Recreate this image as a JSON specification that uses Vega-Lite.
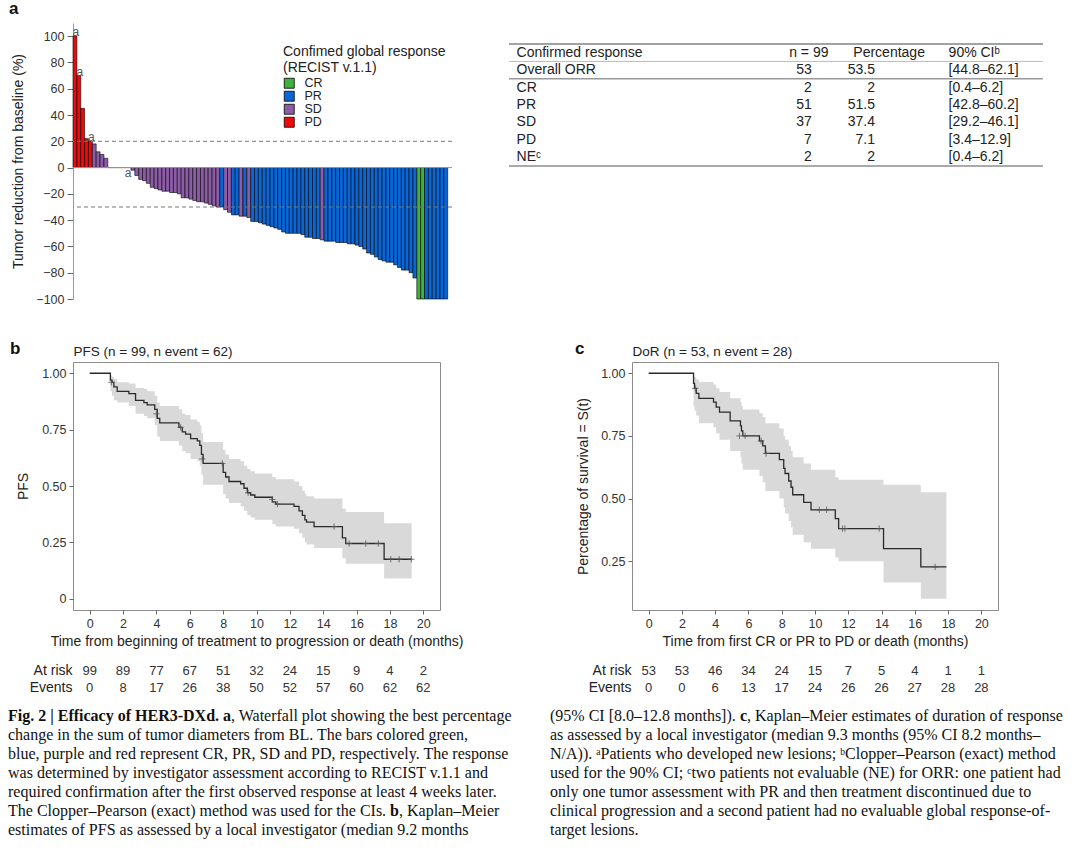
{
  "$schema": "https://vega.github.io/schema/vega-lite/v6.json",
  "background": "white",
  "padding": {"left": 8, "top": 0, "right": 2, "bottom": 2},
  "config": {
    "view": {"stroke": null},
    "font": "Liberation Sans",
    "axis": {"labelFontSize": 12.5, "labelColor": "#333", "titleFontSize": 14, "titleFontWeight": "normal", "titleColor": "#222", "tickColor": "#666", "domainColor": "#999", "grid": false, "labelFont": "Liberation Sans", "titleFont": "Liberation Sans", "labelOverlap": false},
    "title": {"fontSize": 17, "fontWeight": "bold", "color": "#111", "anchor": "start", "frame": "group", "font": "Liberation Sans"},
    "legend": {"titleFontSize": 14, "titleFontWeight": "normal", "titleColor": "#222", "labelFontSize": 12.5, "labelColor": "#222", "symbolType": "square", "symbolSize": 100, "symbolStrokeColor": "black", "symbolStrokeWidth": 0.8, "titleLineHeight": 16, "rowPadding": -1, "labelOffset": 9, "titlePadding": 2, "labelBaseline": "middle"}
  },
  "datasets": {
    "wf": [
      {"pid": 1, "value": 100, "resp": "PD", "note": "a"},
      {"pid": 2, "value": 70, "resp": "PD", "note": "a"},
      {"pid": 3, "value": 45, "resp": "PD", "note": ""},
      {"pid": 4, "value": 22, "resp": "PD", "note": ""},
      {"pid": 5, "value": 20, "resp": "PD", "note": "a"},
      {"pid": 6, "value": 18, "resp": "SD", "note": ""},
      {"pid": 7, "value": 12, "resp": "SD", "note": ""},
      {"pid": 8, "value": 10, "resp": "SD", "note": ""},
      {"pid": 9, "value": 7, "resp": "SD", "note": ""},
      {"pid": 10, "value": 0, "resp": "PD", "note": ""},
      {"pid": 11, "value": 0, "resp": "PD", "note": ""},
      {"pid": 12, "value": 0, "resp": "SD", "note": ""},
      {"pid": 13, "value": 0, "resp": "SD", "note": ""},
      {"pid": 14, "value": 0, "resp": "SD", "note": ""},
      {"pid": 15, "value": 0, "resp": "SD", "note": "a"},
      {"pid": 16, "value": -2, "resp": "SD", "note": ""},
      {"pid": 17, "value": -6, "resp": "SD", "note": ""},
      {"pid": 18, "value": -9, "resp": "SD", "note": ""},
      {"pid": 19, "value": -10, "resp": "SD", "note": ""},
      {"pid": 20, "value": -12, "resp": "SD", "note": ""},
      {"pid": 21, "value": -15, "resp": "SD", "note": ""},
      {"pid": 22, "value": -16, "resp": "SD", "note": ""},
      {"pid": 23, "value": -17, "resp": "SD", "note": ""},
      {"pid": 24, "value": -18, "resp": "SD", "note": ""},
      {"pid": 25, "value": -18, "resp": "SD", "note": ""},
      {"pid": 26, "value": -19, "resp": "SD", "note": ""},
      {"pid": 27, "value": -19, "resp": "SD", "note": ""},
      {"pid": 28, "value": -20, "resp": "SD", "note": ""},
      {"pid": 29, "value": -23, "resp": "SD", "note": ""},
      {"pid": 30, "value": -23, "resp": "SD", "note": ""},
      {"pid": 31, "value": -24, "resp": "SD", "note": ""},
      {"pid": 32, "value": -25, "resp": "SD", "note": ""},
      {"pid": 33, "value": -26, "resp": "SD", "note": ""},
      {"pid": 34, "value": -26, "resp": "SD", "note": ""},
      {"pid": 35, "value": -27, "resp": "SD", "note": ""},
      {"pid": 36, "value": -28, "resp": "SD", "note": ""},
      {"pid": 37, "value": -29, "resp": "SD", "note": ""},
      {"pid": 38, "value": -30, "resp": "SD", "note": ""},
      {"pid": 39, "value": -30, "resp": "PR", "note": ""},
      {"pid": 40, "value": -32, "resp": "SD", "note": ""},
      {"pid": 41, "value": -34, "resp": "SD", "note": ""},
      {"pid": 42, "value": -36, "resp": "PR", "note": ""},
      {"pid": 43, "value": -36, "resp": "PR", "note": ""},
      {"pid": 44, "value": -37, "resp": "SD", "note": ""},
      {"pid": 45, "value": -37, "resp": "PR", "note": ""},
      {"pid": 46, "value": -38, "resp": "SD", "note": ""},
      {"pid": 47, "value": -41, "resp": "PR", "note": ""},
      {"pid": 48, "value": -41, "resp": "PR", "note": ""},
      {"pid": 49, "value": -42, "resp": "PR", "note": ""},
      {"pid": 50, "value": -43, "resp": "PR", "note": ""},
      {"pid": 51, "value": -44, "resp": "PR", "note": ""},
      {"pid": 52, "value": -45, "resp": "PR", "note": ""},
      {"pid": 53, "value": -46, "resp": "PR", "note": ""},
      {"pid": 54, "value": -47, "resp": "PR", "note": ""},
      {"pid": 55, "value": -49, "resp": "PR", "note": ""},
      {"pid": 56, "value": -50, "resp": "PR", "note": ""},
      {"pid": 57, "value": -50, "resp": "PR", "note": ""},
      {"pid": 58, "value": -50, "resp": "PR", "note": ""},
      {"pid": 59, "value": -50, "resp": "PR", "note": ""},
      {"pid": 60, "value": -51, "resp": "PR", "note": ""},
      {"pid": 61, "value": -53, "resp": "PR", "note": ""},
      {"pid": 62, "value": -53, "resp": "PR", "note": ""},
      {"pid": 63, "value": -54, "resp": "PR", "note": ""},
      {"pid": 64, "value": -54, "resp": "PR", "note": ""},
      {"pid": 65, "value": -55, "resp": "SD", "note": ""},
      {"pid": 66, "value": -56, "resp": "PR", "note": ""},
      {"pid": 67, "value": -56, "resp": "PR", "note": ""},
      {"pid": 68, "value": -56, "resp": "PR", "note": ""},
      {"pid": 69, "value": -57, "resp": "PR", "note": ""},
      {"pid": 70, "value": -57, "resp": "PR", "note": ""},
      {"pid": 71, "value": -57, "resp": "PR", "note": ""},
      {"pid": 72, "value": -58, "resp": "PR", "note": ""},
      {"pid": 73, "value": -58, "resp": "PR", "note": ""},
      {"pid": 74, "value": -59, "resp": "PR", "note": ""},
      {"pid": 75, "value": -60, "resp": "PR", "note": ""},
      {"pid": 76, "value": -62, "resp": "PR", "note": ""},
      {"pid": 77, "value": -65, "resp": "PR", "note": ""},
      {"pid": 78, "value": -66, "resp": "PR", "note": ""},
      {"pid": 79, "value": -68, "resp": "PR", "note": ""},
      {"pid": 80, "value": -70, "resp": "PR", "note": ""},
      {"pid": 81, "value": -71, "resp": "PR", "note": ""},
      {"pid": 82, "value": -72, "resp": "PR", "note": ""},
      {"pid": 83, "value": -72, "resp": "PR", "note": ""},
      {"pid": 84, "value": -74, "resp": "PR", "note": ""},
      {"pid": 85, "value": -76, "resp": "PR", "note": ""},
      {"pid": 86, "value": -78, "resp": "PR", "note": ""},
      {"pid": 87, "value": -78, "resp": "PR", "note": ""},
      {"pid": 88, "value": -80, "resp": "PR", "note": ""},
      {"pid": 89, "value": -84, "resp": "PR", "note": ""},
      {"pid": 90, "value": -100, "resp": "CR", "note": ""},
      {"pid": 91, "value": -100, "resp": "CR", "note": ""},
      {"pid": 92, "value": -100, "resp": "PR", "note": ""},
      {"pid": 93, "value": -100, "resp": "PR", "note": ""},
      {"pid": 94, "value": -100, "resp": "PR", "note": ""},
      {"pid": 95, "value": -100, "resp": "PR", "note": ""},
      {"pid": 96, "value": -100, "resp": "PR", "note": ""},
      {"pid": 97, "value": -100, "resp": "PR", "note": ""}
    ],
    "tblHead": [
      {"label": "Confirmed response", "n": "n = 99", "pct": "Percentage", "ci": "90% CIᵇ"}
    ],
    "tbl": [
      {"label": "Overall ORR", "n": 53, "pct": 53.5, "ci": "[44.8–62.1]"},
      {"label": "CR", "n": 2, "pct": 2, "ci": "[0.4–6.2]"},
      {"label": "PR", "n": 51, "pct": 51.5, "ci": "[42.8–60.2]"},
      {"label": "SD", "n": 37, "pct": 37.4, "ci": "[29.2–46.1]"},
      {"label": "PD", "n": 7, "pct": 7.1, "ci": "[3.4–12.9]"},
      {"label": "NEᶜ", "n": 2, "pct": 2, "ci": "[0.4–6.2]"}
    ],
    "pfs": [
      {"t": 0, "s": 1, "lo": 1, "hi": 1},
      {"t": 1.24, "s": 0.97, "lo": 0.92, "hi": 0.99},
      {"t": 1.34, "s": 0.96, "lo": 0.9, "hi": 0.985},
      {"t": 1.45, "s": 0.94, "lo": 0.88, "hi": 0.975},
      {"t": 1.65, "s": 0.92, "lo": 0.87, "hi": 0.96},
      {"t": 2.35, "s": 0.91, "lo": 0.855, "hi": 0.955},
      {"t": 2.75, "s": 0.88, "lo": 0.82, "hi": 0.935},
      {"t": 3.25, "s": 0.87, "lo": 0.81, "hi": 0.93},
      {"t": 3.45, "s": 0.86, "lo": 0.8, "hi": 0.92},
      {"t": 3.9, "s": 0.84, "lo": 0.77, "hi": 0.9},
      {"t": 4.05, "s": 0.8, "lo": 0.72, "hi": 0.87},
      {"t": 4.2, "s": 0.78, "lo": 0.7, "hi": 0.855},
      {"t": 5.35, "s": 0.76, "lo": 0.68, "hi": 0.84},
      {"t": 5.55, "s": 0.74, "lo": 0.655, "hi": 0.82},
      {"t": 5.75, "s": 0.73, "lo": 0.645, "hi": 0.815},
      {"t": 6.05, "s": 0.71, "lo": 0.62, "hi": 0.795},
      {"t": 6.45, "s": 0.7, "lo": 0.61, "hi": 0.785},
      {"t": 6.6, "s": 0.68, "lo": 0.59, "hi": 0.77},
      {"t": 6.7, "s": 0.64, "lo": 0.55, "hi": 0.735},
      {"t": 6.8, "s": 0.6, "lo": 0.505, "hi": 0.695},
      {"t": 8.0, "s": 0.56, "lo": 0.465, "hi": 0.66},
      {"t": 8.15, "s": 0.54, "lo": 0.445, "hi": 0.64},
      {"t": 8.35, "s": 0.52, "lo": 0.425, "hi": 0.62},
      {"t": 9.05, "s": 0.51, "lo": 0.41, "hi": 0.61},
      {"t": 9.25, "s": 0.49, "lo": 0.39, "hi": 0.59},
      {"t": 9.45, "s": 0.47, "lo": 0.37, "hi": 0.575},
      {"t": 9.65, "s": 0.46, "lo": 0.36, "hi": 0.565},
      {"t": 9.9, "s": 0.45, "lo": 0.35, "hi": 0.555},
      {"t": 10.95, "s": 0.43, "lo": 0.33, "hi": 0.54},
      {"t": 11.15, "s": 0.42, "lo": 0.32, "hi": 0.53},
      {"t": 12.25, "s": 0.41, "lo": 0.31, "hi": 0.52},
      {"t": 12.55, "s": 0.39, "lo": 0.29, "hi": 0.5},
      {"t": 12.75, "s": 0.37, "lo": 0.27, "hi": 0.48},
      {"t": 12.9, "s": 0.35, "lo": 0.25, "hi": 0.465},
      {"t": 13.0, "s": 0.34, "lo": 0.24, "hi": 0.455},
      {"t": 13.45, "s": 0.32, "lo": 0.225, "hi": 0.445},
      {"t": 15.15, "s": 0.27, "lo": 0.18, "hi": 0.4},
      {"t": 15.35, "s": 0.245, "lo": 0.155, "hi": 0.385},
      {"t": 17.65, "s": 0.175, "lo": 0.09, "hi": 0.335},
      {"t": 19.3, "s": 0.175, "lo": 0.09, "hi": 0.335}
    ],
    "pfsC": [
      {"t": 1.3, "s": 0.96}, {"t": 4.0, "s": 0.82}, {"t": 5.45, "s": 0.76}, {"t": 6.75, "s": 0.62},
      {"t": 7.95, "s": 0.6}, {"t": 9.5, "s": 0.47}, {"t": 10.95, "s": 0.44}, {"t": 11.25, "s": 0.42},
      {"t": 14.65, "s": 0.32}, {"t": 15.55, "s": 0.245}, {"t": 16.55, "s": 0.245}, {"t": 17.3, "s": 0.245},
      {"t": 18.05, "s": 0.175}, {"t": 18.55, "s": 0.175}, {"t": 19.28, "s": 0.175}
    ],
    "pfsRisk": [
      {"t": 0, "row": "At risk", "v": 99}, {"t": 2, "row": "At risk", "v": 89}, {"t": 4, "row": "At risk", "v": 77},
      {"t": 6, "row": "At risk", "v": 67}, {"t": 8, "row": "At risk", "v": 51}, {"t": 10, "row": "At risk", "v": 32},
      {"t": 12, "row": "At risk", "v": 24}, {"t": 14, "row": "At risk", "v": 15}, {"t": 16, "row": "At risk", "v": 9},
      {"t": 18, "row": "At risk", "v": 4}, {"t": 20, "row": "At risk", "v": 2},
      {"t": 0, "row": "Events", "v": 0}, {"t": 2, "row": "Events", "v": 8}, {"t": 4, "row": "Events", "v": 17},
      {"t": 6, "row": "Events", "v": 26}, {"t": 8, "row": "Events", "v": 38}, {"t": 10, "row": "Events", "v": 50},
      {"t": 12, "row": "Events", "v": 52}, {"t": 14, "row": "Events", "v": 57}, {"t": 16, "row": "Events", "v": 60},
      {"t": 18, "row": "Events", "v": 62}, {"t": 20, "row": "Events", "v": 62}
    ],
    "dor": [
      {"t": 0, "s": 1, "lo": 1, "hi": 1},
      {"t": 2.7, "s": 0.96, "lo": 0.87, "hi": 0.99},
      {"t": 2.76, "s": 0.94, "lo": 0.85, "hi": 0.985},
      {"t": 2.86, "s": 0.92, "lo": 0.83, "hi": 0.975},
      {"t": 3.02, "s": 0.9, "lo": 0.8, "hi": 0.965},
      {"t": 3.9, "s": 0.885, "lo": 0.785, "hi": 0.955},
      {"t": 4.06, "s": 0.865, "lo": 0.76, "hi": 0.94},
      {"t": 4.26, "s": 0.845, "lo": 0.735, "hi": 0.925},
      {"t": 4.9, "s": 0.81, "lo": 0.69, "hi": 0.9},
      {"t": 5.52, "s": 0.79, "lo": 0.665, "hi": 0.885},
      {"t": 5.58, "s": 0.77, "lo": 0.64, "hi": 0.87},
      {"t": 5.66, "s": 0.75, "lo": 0.615, "hi": 0.855},
      {"t": 6.66, "s": 0.73, "lo": 0.59, "hi": 0.84},
      {"t": 6.86, "s": 0.71, "lo": 0.565, "hi": 0.825},
      {"t": 7.02, "s": 0.68, "lo": 0.53, "hi": 0.8},
      {"t": 7.86, "s": 0.655, "lo": 0.5, "hi": 0.78},
      {"t": 8.12, "s": 0.62, "lo": 0.465, "hi": 0.75},
      {"t": 8.2, "s": 0.6, "lo": 0.44, "hi": 0.735},
      {"t": 8.42, "s": 0.57, "lo": 0.41, "hi": 0.71},
      {"t": 8.56, "s": 0.545, "lo": 0.385, "hi": 0.69},
      {"t": 8.66, "s": 0.515, "lo": 0.355, "hi": 0.665},
      {"t": 9.32, "s": 0.485, "lo": 0.325, "hi": 0.64},
      {"t": 9.76, "s": 0.455, "lo": 0.3, "hi": 0.615},
      {"t": 11.22, "s": 0.42, "lo": 0.265, "hi": 0.585},
      {"t": 11.42, "s": 0.38, "lo": 0.25, "hi": 0.575},
      {"t": 14.12, "s": 0.3, "lo": 0.165, "hi": 0.555},
      {"t": 16.36, "s": 0.227, "lo": 0.1, "hi": 0.525},
      {"t": 17.9, "s": 0.227, "lo": 0.1, "hi": 0.525}
    ],
    "dorC": [
      {"t": 2.8, "s": 0.94}, {"t": 5.46, "s": 0.75}, {"t": 5.8, "s": 0.75}, {"t": 6.76, "s": 0.73},
      {"t": 7.06, "s": 0.68}, {"t": 10.26, "s": 0.455}, {"t": 10.7, "s": 0.455}, {"t": 11.66, "s": 0.38},
      {"t": 11.8, "s": 0.38}, {"t": 13.86, "s": 0.38}, {"t": 17.22, "s": 0.227}
    ],
    "dorRisk": [
      {"t": 0, "row": "At risk", "v": 53}, {"t": 2, "row": "At risk", "v": 53}, {"t": 4, "row": "At risk", "v": 46},
      {"t": 6, "row": "At risk", "v": 34}, {"t": 8, "row": "At risk", "v": 24}, {"t": 10, "row": "At risk", "v": 15},
      {"t": 12, "row": "At risk", "v": 7}, {"t": 14, "row": "At risk", "v": 5}, {"t": 16, "row": "At risk", "v": 4},
      {"t": 18, "row": "At risk", "v": 1}, {"t": 20, "row": "At risk", "v": 1},
      {"t": 0, "row": "Events", "v": 0}, {"t": 2, "row": "Events", "v": 0}, {"t": 4, "row": "Events", "v": 6},
      {"t": 6, "row": "Events", "v": 13}, {"t": 8, "row": "Events", "v": 17}, {"t": 10, "row": "Events", "v": 24},
      {"t": 12, "row": "Events", "v": 26}, {"t": 14, "row": "Events", "v": 26}, {"t": 16, "row": "Events", "v": 27},
      {"t": 18, "row": "Events", "v": 28}, {"t": 20, "row": "Events", "v": 28}
    ],
    "capL": [
      {"line": 1, "seg": "b0", "text": "Fig. 2 | Efficacy of HER3-DXd. a"},
      {"line": 1, "seg": "r1", "text": ", Waterfall plot showing the best percentage"},
      {"line": 2, "seg": "r0", "text": "change in the sum of tumor diameters from BL. The bars colored green,"},
      {"line": 3, "seg": "r0", "text": "blue, purple and red represent CR, PR, SD and PD, respectively. The response"},
      {"line": 4, "seg": "r0", "text": "was determined by investigator assessment according to RECIST v.1.1 and"},
      {"line": 5, "seg": "r0", "text": "required confirmation after the first observed response at least 4 weeks later."},
      {"line": 6, "seg": "r0", "text": "The Clopper–Pearson (exact) method was used for the CIs."},
      {"line": 6, "seg": "b2", "text": "b"},
      {"line": 6, "seg": "r2", "text": ", Kaplan–Meier"},
      {"line": 7, "seg": "r0", "text": "estimates of PFS as assessed by a local investigator (median 9.2 months"}
    ],
    "capR": [
      {"line": 1, "seg": "r0", "text": "(95% CI [8.0–12.8 months])."},
      {"line": 1, "seg": "b2", "text": "c"},
      {"line": 1, "seg": "r2", "text": ", Kaplan–Meier estimates of duration of response"},
      {"line": 2, "seg": "r0", "text": "as assessed by a local investigator (median 9.3 months (95% CI 8.2 months–"},
      {"line": 3, "seg": "r0", "text": "N/A)). ᵃPatients who developed new lesions; ᵇClopper–Pearson (exact) method"},
      {"line": 4, "seg": "r0", "text": "used for the 90% CI; ᶜtwo patients not evaluable (NE) for ORR: one patient had"},
      {"line": 5, "seg": "r0", "text": "only one tumor assessment with PR and then treatment discontinued due to"},
      {"line": 6, "seg": "r0", "text": "clinical progression and a second patient had no evaluable global response-of-"},
      {"line": 7, "seg": "r0", "text": "target lesions."}
    ]
  },
  "columns": 4,
  "align": "each",
  "bounds": "flush",
  "spacing": {"row": 0, "column": 0},
  "concat": [
    {
      "width": 379, "height": 276,
      "title": {"text": "a", "dx": -64, "offset": 5},
      "layer": [
        {
          "data": {"name": "wf"},
          "mark": {"type": "bar", "stroke": "black", "strokeWidth": 0.6},
          "encoding": {
            "x": {"field": "pid", "type": "ordinal", "axis": null, "scale": {"paddingInner": 0, "paddingOuter": 0, "range": [0, 374.7]}},
            "y": {"field": "value", "type": "quantitative", "scale": {"domain": [-100, 110], "nice": false, "zero": false},
                  "axis": {"values": [-100, -80, -60, -40, -20, 0, 20, 40, 60, 80, 100], "tickCount": 11, "labelOverlap": false, "labelSeparation": 0, "labelBound": false, "labelFontSize": 12.5, "title": "Tumor reduction from baseline (%)", "tickSize": 6, "labelPadding": 3, "titlePadding": 10, "domainColor": "#999"}},
            "color": {"field": "resp", "type": "nominal",
                      "scale": {"domain": ["CR", "PR", "SD", "PD"], "range": ["#3db23d", "#0a66d6", "#8d5ca6", "#ee0a0a"]},
                      "legend": {"title": ["Confimed global response", "(RECIST v.1.1)"], "orient": "none", "legendX": 210, "legendY": 22}}
          }
        },
        {
          "data": {"values": [{}]},
          "mark": {"type": "rule", "color": "#999", "strokeWidth": 1},
          "encoding": {"y": {"datum": 0, "type": "quantitative", "axis": null}}
        },
        {
          "data": {"values": [{}]},
          "mark": {"type": "rule", "color": "#777", "strokeDash": [4, 3], "strokeWidth": 1},
          "encoding": {"y": {"datum": 20, "type": "quantitative", "axis": null}}
        },
        {
          "data": {"values": [{}]},
          "mark": {"type": "rule", "color": "#777", "strokeDash": [4, 3], "strokeWidth": 1},
          "encoding": {"y": {"datum": -30, "type": "quantitative", "axis": null}}
        },
        {
          "data": {"name": "wf"},
          "transform": [{"filter": "datum.note == 'a' && datum.value > 0"}],
          "mark": {"type": "text", "baseline": "bottom", "dy": 3, "dx": 1, "fontSize": 12, "color": "#555"},
          "encoding": {
            "x": {"field": "pid", "type": "ordinal"},
            "y": {"field": "value", "type": "quantitative", "axis": null},
            "text": {"field": "note", "type": "nominal"}
          }
        },
        {
          "data": {"name": "wf"},
          "transform": [{"filter": "datum.note == 'a' && datum.value <= 0"}],
          "mark": {"type": "text", "baseline": "top", "dy": 0, "dx": -1, "fontSize": 12, "color": "#555"},
          "encoding": {
            "x": {"field": "pid", "type": "ordinal"},
            "y": {"field": "value", "type": "quantitative", "axis": null},
            "text": {"field": "note", "type": "nominal"}
          }
        }
      ],
      "resolve": {"axis": {"y": "independent"}}
    },
    {
      "width": 57, "height": 339,
      "data": {"values": [{}]},
      "mark": {"type": "text", "text": ""}
    },
    {
      "width": 123, "height": 143,
      "layer": [
        {
          "data": {"values": [{}]},
          "mark": {"type": "rule", "color": "#444", "strokeWidth": 1},
          "encoding": {
            "x": {"datum": 0, "type": "quantitative", "scale": {"domain": [0, 566], "range": [0, 566]}, "axis": null},
            "x2": {"datum": 566},
            "y": {"datum": "Confirmed response", "type": "nominal", "bandPosition": 0,
                  "scale": {"domain": ["Confirmed response", "Overall ORR", "CR", "PR", "SD", "PD", "NEᶜ"], "range": [21, 143], "paddingInner": 0, "paddingOuter": 0}, "axis": null}
          }
        },
        {
          "data": {"values": [{}]},
          "mark": {"type": "rule", "color": "#bbb", "strokeWidth": 1},
          "encoding": {"x": {"datum": 0, "type": "quantitative"}, "x2": {"datum": 566}, "y": {"datum": "Overall ORR", "type": "nominal", "bandPosition": 0}}
        },
        {
          "data": {"values": [{}]},
          "mark": {"type": "rule", "color": "#999", "strokeWidth": 1.5},
          "encoding": {"x": {"datum": 0, "type": "quantitative"}, "x2": {"datum": 566}, "y": {"datum": "CR", "type": "nominal", "bandPosition": 0}}
        },
        {
          "data": {"values": [{}]},
          "mark": {"type": "rule", "color": "#aaa", "strokeWidth": 2},
          "encoding": {"x": {"datum": 0, "type": "quantitative"}, "x2": {"datum": 566}, "y": {"datum": "NEᶜ", "type": "nominal", "bandPosition": 1}}
        },
        {
          "data": {"name": "tblHead"},
          "mark": {"type": "text", "align": "left", "baseline": "middle", "fontSize": 14, "color": "#222"},
          "encoding": {"x": {"datum": 8, "type": "quantitative"}, "y": {"field": "label", "type": "nominal"}, "text": {"field": "label", "type": "nominal"}}
        },
        {
          "data": {"name": "tblHead"},
          "mark": {"type": "text", "align": "left", "baseline": "middle", "fontSize": 14, "color": "#222"},
          "encoding": {"x": {"datum": 297, "type": "quantitative"}, "y": {"field": "label", "type": "nominal"}, "text": {"field": "n", "type": "nominal"}}
        },
        {
          "data": {"name": "tblHead"},
          "mark": {"type": "text", "align": "left", "baseline": "middle", "fontSize": 14, "color": "#222"},
          "encoding": {"x": {"datum": 365, "type": "quantitative"}, "y": {"field": "label", "type": "nominal"}, "text": {"field": "pct", "type": "nominal"}}
        },
        {
          "data": {"name": "tblHead"},
          "mark": {"type": "text", "align": "left", "baseline": "middle", "fontSize": 14, "color": "#222"},
          "encoding": {"x": {"datum": 466, "type": "quantitative"}, "y": {"field": "label", "type": "nominal"}, "text": {"field": "ci", "type": "nominal"}}
        },
        {
          "data": {"name": "tbl"},
          "mark": {"type": "text", "align": "left", "baseline": "middle", "fontSize": 14, "color": "#222"},
          "encoding": {"x": {"datum": 8, "type": "quantitative"}, "y": {"field": "label", "type": "nominal"}, "text": {"field": "label", "type": "nominal"}}
        },
        {
          "data": {"name": "tbl"},
          "mark": {"type": "text", "align": "right", "baseline": "middle", "fontSize": 14, "color": "#222"},
          "encoding": {"x": {"datum": 321, "type": "quantitative"}, "y": {"field": "label", "type": "nominal"}, "text": {"field": "n", "type": "nominal"}}
        },
        {
          "data": {"name": "tbl"},
          "mark": {"type": "text", "align": "right", "baseline": "middle", "fontSize": 14, "color": "#222"},
          "encoding": {"x": {"datum": 388, "type": "quantitative"}, "y": {"field": "label", "type": "nominal"}, "text": {"field": "pct", "type": "nominal"}}
        },
        {
          "data": {"name": "tbl"},
          "mark": {"type": "text", "align": "left", "baseline": "middle", "fontSize": 14, "color": "#222"},
          "encoding": {"x": {"datum": 466, "type": "quantitative"}, "y": {"field": "label", "type": "nominal"}, "text": {"field": "ci", "type": "nominal"}}
        }
      ]
    },
    {
      "width": 1, "height": 10,
      "data": {"values": [{}]},
      "mark": {"type": "text", "text": ""}
    },
    {
      "width": 367, "height": 248,
      "view": {"stroke": "#8c8c8c", "strokeWidth": 1},
      "title": {"text": "b", "dx": -63, "offset": -14},
      "layer": [
        {
          "data": {"name": "pfs"},
          "mark": {"type": "area", "interpolate": "step-after", "color": "#d9d9d9", "opacity": 1},
          "encoding": {
            "x": {"field": "t", "type": "quantitative", "scale": {"domain": [-1, 21], "nice": false, "zero": false},
                  "axis": {"orient": "bottom", "values": [0, 2, 4, 6, 8, 10, 12, 14, 16, 18, 20], "title": "Time from beginning of treatment to progression or death (months)", "domain": false, "tickSize": 4, "labelPadding": 3, "titlePadding": 5}},
            "y": {"field": "lo", "type": "quantitative", "scale": {"domain": [-0.05, 1.05], "nice": false, "zero": false},
                  "axis": {"values": [0, 0.25, 0.5, 0.75, 1], "labelExpr": "datum.value == 0 ? '0' : format(datum.value, '.2f')", "title": "PFS", "domain": false, "tickSize": 4, "labelPadding": 3, "titlePadding": 11}},
            "y2": {"field": "hi"}
          }
        },
        {
          "data": {"name": "pfs"},
          "mark": {"type": "line", "interpolate": "step-after", "color": "#2b2b2b", "strokeWidth": 1.3},
          "encoding": {
            "x": {"field": "t", "type": "quantitative",
                  "axis": {"orient": "top", "title": "PFS (n = 99, n event = 62)", "labels": false, "ticks": false, "domain": false, "titleAnchor": "start", "titleAlign": "left", "titlePadding": 4, "titleFontSize": 13.5}},
            "y": {"field": "s", "type": "quantitative"}
          }
        },
        {
          "data": {"name": "pfsC"},
          "mark": {"type": "point", "shape": "M-1,0L1,0M0,-1L0,1", "size": 40, "stroke": "#555", "strokeWidth": 0.8, "filled": false, "opacity": 1},
          "encoding": {
            "x": {"field": "t", "type": "quantitative", "axis": null},
            "y": {"field": "s", "type": "quantitative"}
          }
        }
      ],
      "resolve": {"axis": {"x": "independent"}}
    },
    {
      "width": 57, "height": 300,
      "data": {"values": [{}]},
      "mark": {"type": "text", "text": ""}
    },
    {
      "width": 123, "height": 10,
      "data": {"values": [{}]},
      "mark": {"type": "text", "text": ""}
    },
    {
      "width": 366, "height": 248,
      "view": {"stroke": "#8c8c8c", "strokeWidth": 1},
      "title": {"text": "c", "dx": -57, "offset": -14},
      "layer": [
        {
          "data": {"name": "dor"},
          "mark": {"type": "area", "interpolate": "step-after", "color": "#d9d9d9", "opacity": 1},
          "encoding": {
            "x": {"field": "t", "type": "quantitative", "scale": {"domain": [-1, 21], "nice": false, "zero": false},
                  "axis": {"orient": "bottom", "values": [0, 2, 4, 6, 8, 10, 12, 14, 16, 18, 20], "title": "Time from first CR or PR to PD or death (months)", "domain": false, "tickSize": 4, "labelPadding": 3, "titlePadding": 5}},
            "y": {"field": "lo", "type": "quantitative", "scale": {"domain": [0.055, 1.045], "nice": false, "zero": false},
                  "axis": {"values": [0.25, 0.5, 0.75, 1], "format": ".2f", "title": "Percentage of survival = S(t)", "domain": false, "tickSize": 4, "labelPadding": 3, "titlePadding": 10}},
            "y2": {"field": "hi"}
          }
        },
        {
          "data": {"name": "dor"},
          "mark": {"type": "line", "interpolate": "step-after", "color": "#2b2b2b", "strokeWidth": 1.3},
          "encoding": {
            "x": {"field": "t", "type": "quantitative",
                  "axis": {"orient": "top", "title": "DoR (n = 53, n event = 28)", "labels": false, "ticks": false, "domain": false, "titleAnchor": "start", "titleAlign": "left", "titlePadding": 4, "titleFontSize": 13.5}},
            "y": {"field": "s", "type": "quantitative"}
          }
        },
        {
          "data": {"name": "dorC"},
          "mark": {"type": "point", "shape": "M-1,0L1,0M0,-1L0,1", "size": 40, "stroke": "#555", "strokeWidth": 0.8, "filled": false, "opacity": 1},
          "encoding": {
            "x": {"field": "t", "type": "quantitative", "axis": null},
            "y": {"field": "s", "type": "quantitative"}
          }
        }
      ],
      "resolve": {"axis": {"x": "independent"}}
    },
    {
      "width": 367, "height": 34,
      "data": {"name": "pfsRisk"},
      "mark": {"type": "text", "fontSize": 13, "color": "#333", "baseline": "middle"},
      "encoding": {
        "x": {"field": "t", "type": "quantitative", "scale": {"domain": [-1, 21], "nice": false, "zero": false}, "axis": null},
        "y": {"field": "row", "type": "nominal", "scale": {"domain": ["At risk", "Events"], "paddingInner": 0, "paddingOuter": 0},
              "axis": {"title": null, "ticks": false, "domain": false, "labelFontSize": 14, "labelPadding": 1, "labelColor": "#222"}},
        "text": {"field": "v", "type": "nominal"}
      }
    },
    {
      "width": 57, "height": 44,
      "data": {"values": [{}]},
      "mark": {"type": "text", "text": ""}
    },
    {
      "width": 123, "height": 10,
      "data": {"values": [{}]},
      "mark": {"type": "text", "text": ""}
    },
    {
      "width": 366, "height": 34,
      "data": {"name": "dorRisk"},
      "mark": {"type": "text", "fontSize": 13, "color": "#333", "baseline": "middle"},
      "encoding": {
        "x": {"field": "t", "type": "quantitative", "scale": {"domain": [-1, 21], "nice": false, "zero": false}, "axis": null},
        "y": {"field": "row", "type": "nominal", "scale": {"domain": ["At risk", "Events"], "paddingInner": 0, "paddingOuter": 0},
              "axis": {"title": null, "ticks": false, "domain": false, "labelFontSize": 14, "labelPadding": 1, "labelColor": "#222"}},
        "text": {"field": "v", "type": "nominal"}
      }
    },
    {
      "width": 367, "height": 133,
      "data": {"name": "capL"},
      "encoding": {
        "x": {"datum": 0, "type": "quantitative", "scale": {"domain": [0, 1]}, "axis": null},
        "y": {"field": "line", "type": "ordinal", "scale": {"domain": [1, 2, 3, 4, 5, 6, 7], "paddingInner": 0, "paddingOuter": 0}, "axis": null},
        "text": {"field": "text", "type": "nominal"}
      },
      "layer": [
        {"transform": [{"filter": "datum.seg == 'r0'"}], "mark": {"type": "text", "align": "left", "baseline": "middle", "font": "Liberation Serif", "fontSize": 16, "color": "#111", "dx": -65}},
        {"transform": [{"filter": "datum.seg == 'b0'"}], "mark": {"type": "text", "align": "left", "baseline": "middle", "font": "Liberation Serif", "fontSize": 16, "fontWeight": "bold", "color": "#111", "dx": -65}},
        {"transform": [{"filter": "datum.seg == 'r1'"}], "mark": {"type": "text", "align": "left", "baseline": "middle", "font": "Liberation Serif", "fontSize": 16, "color": "#111", "dx": 158}},
        {"transform": [{"filter": "datum.seg == 'b2'"}], "mark": {"type": "text", "align": "left", "baseline": "middle", "font": "Liberation Serif", "fontSize": 16, "fontWeight": "bold", "color": "#111", "dx": 317}},
        {"transform": [{"filter": "datum.seg == 'r2'"}], "mark": {"type": "text", "align": "left", "baseline": "middle", "font": "Liberation Serif", "fontSize": 16, "color": "#111", "dx": 326}}
      ]
    },
    {
      "width": 57, "height": 133,
      "data": {"values": [{}]},
      "mark": {"type": "text", "text": ""}
    },
    {
      "width": 123, "height": 133,
      "data": {"name": "capR"},
      "encoding": {
        "x": {"datum": 0, "type": "quantitative", "scale": {"domain": [0, 1]}, "axis": null},
        "y": {"field": "line", "type": "ordinal", "scale": {"domain": [1, 2, 3, 4, 5, 6, 7], "paddingInner": 0, "paddingOuter": 0}, "axis": null},
        "text": {"field": "text", "type": "nominal"}
      },
      "layer": [
        {"transform": [{"filter": "datum.seg == 'r0'"}], "mark": {"type": "text", "align": "left", "baseline": "middle", "font": "Liberation Serif", "fontSize": 16, "color": "#111", "dx": 41}},
        {"transform": [{"filter": "datum.seg == 'b2'"}], "mark": {"type": "text", "align": "left", "baseline": "middle", "font": "Liberation Serif", "fontSize": 16, "fontWeight": "bold", "color": "#111", "dx": 231}},
        {"transform": [{"filter": "datum.seg == 'r2'"}], "mark": {"type": "text", "align": "left", "baseline": "middle", "font": "Liberation Serif", "fontSize": 16, "color": "#111", "dx": 238}}
      ]
    },
    {
      "width": 1, "height": 10,
      "data": {"values": [{}]},
      "mark": {"type": "text", "text": ""}
    }
  ]
}
